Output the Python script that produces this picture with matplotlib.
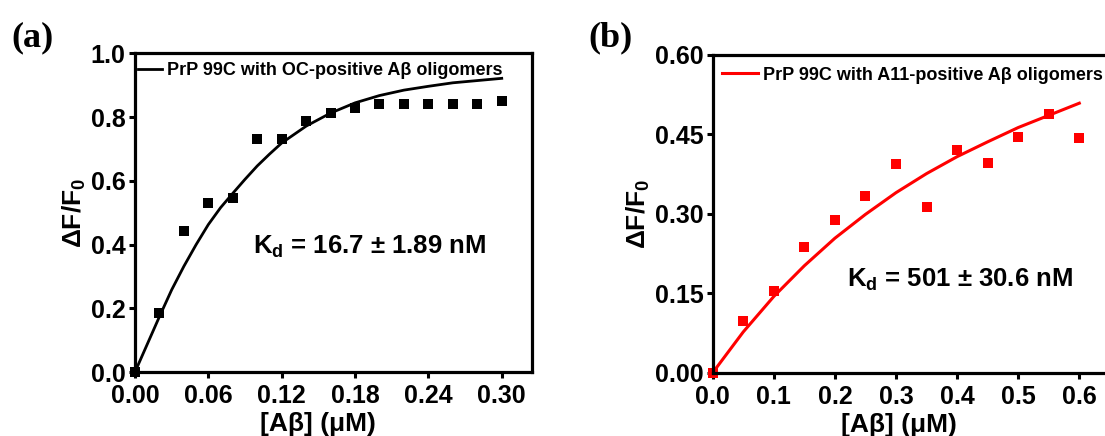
import matplotlib
matplotlib.use('Agg')
import matplotlib.pyplot as plt

plt.rcParams['font.family'] = ['Liberation Sans', 'DejaVu Sans']
plt.rcParams['font.weight'] = 'bold'
plt.rcParams['mathtext.fontset'] = 'custom'
plt.rcParams['mathtext.rm'] = 'Liberation Sans:bold'
plt.rcParams['mathtext.it'] = 'Liberation Sans:bold'
plt.rcParams['mathtext.bf'] = 'Liberation Sans:bold'

# panel (a): OC-positive oligomers
conc_a = [0.00, 0.02, 0.04, 0.06, 0.08, 0.10, 0.12, 0.14, 0.16,
          0.18, 0.20, 0.22, 0.24, 0.26, 0.28, 0.30]
signal_a = [0.000, 0.185, 0.443, 0.530, 0.547, 0.730, 0.730, 0.787, 0.814,
            0.829, 0.843, 0.843, 0.842, 0.840, 0.842, 0.850]
# fitted curve
fit_x_a = [0.00, 0.01, 0.02, 0.03, 0.04, 0.05, 0.06, 0.07, 0.08, 0.09, 0.10,
           0.11, 0.12, 0.14, 0.16, 0.18, 0.20, 0.22, 0.24, 0.26, 0.28, 0.30]
fit_a = [0.000, 0.087, 0.174, 0.258, 0.332, 0.400, 0.463, 0.516, 0.561, 0.605,
         0.647, 0.684, 0.719, 0.772, 0.813, 0.845, 0.868, 0.885, 0.897, 0.908,
         0.915, 0.922]

# panel (b): A11-positive oligomers
conc_b = [0.00, 0.05, 0.10, 0.15, 0.20, 0.25, 0.30, 0.35, 0.40,
          0.45, 0.50, 0.55, 0.60]
signal_b = [0.000, 0.097, 0.154, 0.238, 0.289, 0.334, 0.394, 0.313, 0.421,
            0.396, 0.445, 0.488, 0.443]
fit_b = [0.000, 0.077, 0.144, 0.202, 0.254, 0.299, 0.340, 0.376, 0.408,
         0.436, 0.463, 0.486, 0.509]

xticks_a = [0.00, 0.06, 0.12, 0.18, 0.24, 0.30]
yticks_a = [0.0, 0.2, 0.4, 0.6, 0.8, 1.0]
xticks_b = [0.0, 0.1, 0.2, 0.3, 0.4, 0.5, 0.6]
yticks_b = [0.00, 0.15, 0.30, 0.45, 0.60]

legend_a = 'PrP 99C with OC-positive Aβ oligomers'
legend_b = 'PrP 99C with A11-positive Aβ oligomers'
kd_a = r'K$_\mathregular{d}$ = 16.7 ± 1.89 nM'
kd_b = r'K$_\mathregular{d}$ = 501 ± 30.6 nM'

W, H = 1105, 436
fig = plt.figure(figsize=(W / 100, H / 100), dpi=100)

ax1 = fig.add_axes([135 / W, 1 - 372 / H, 397.3 / W, 318.5 / H])
ax2 = fig.add_axes([712.7 / W, 1 - 372.7 / H, 427.7 / W, 317.7 / H])


def style(ax, xt, yt, xfmt, yfmt, xlim, ylim):
    ax.set_xlim(*xlim)
    ax.set_ylim(*ylim)
    ax.set_xticks(xt)
    ax.set_yticks(yt)
    ax.set_xticklabels([xfmt.format(v) for v in xt])
    ax.set_yticklabels([yfmt.format(v) for v in yt])
    for s in ax.spines.values():
        s.set_linewidth(2.3)
    ax.tick_params(axis='both', direction='out', length=4.3, width=2.2, labelsize=18)
    ax.tick_params(axis='x', pad=4.5)
    ax.tick_params(axis='y', pad=2.5)
    ax.set_ylabel(r'$\Delta$F/F$_\mathregular{0}$', fontsize=19, fontweight='bold', labelpad=2)
    ax.set_xlabel('[Aβ] (μM)', fontsize=19, fontweight='bold', labelpad=3)


style(ax1, xticks_a, yticks_a, '{:.2f}', '{:.1f}', (0, 0.325), (0, 1.0))
style(ax2, xticks_b, yticks_b, '{:.1f}', '{:.2f}', (0, 0.7), (0, 0.6))
ax1.xaxis.label.set_x(0.15 / 0.325)
ax2.xaxis.label.set_x(0.305 / 0.7)

ax1.plot(fit_x_a, fit_a, color='black', lw=2.0, label=legend_a, clip_on=False)
ax1.plot(conc_a, signal_a, 's', color='black', ms=6.5, mew=0, clip_on=False)
ax2.plot(conc_b, fit_b, color='red', lw=2.2, label=legend_b, clip_on=False)
ax2.plot(conc_b, signal_b, 's', color='red', ms=6.5, mew=0, clip_on=False)

ax1.legend(loc='center left', bbox_to_anchor=(0.008, 0.946), frameon=False,
           borderpad=0, borderaxespad=0, handlelength=1.3, handletextpad=0.3,
           prop={'size': 13, 'weight': 'bold'})
ax2.legend(loc='center left', bbox_to_anchor=(0.021, 0.937), frameon=False,
           borderpad=0, borderaxespad=0, handlelength=2.0, handletextpad=0.3,
           prop={'size': 13, 'weight': 'bold'})

ax1.text(0.0966, 0.37, kd_a, ha='left', va='baseline',
         fontsize=18.5, fontweight='bold')
ax2.text(0.219, 0.162, kd_b, ha='left', va='baseline',
         fontsize=18.5, fontweight='bold')

fig.text(32.5 / W, 1 - 37.5 / H, '(a)', family='Liberation Serif', fontsize=26,
         fontweight='bold', ha='center', va='center')
fig.text(610 / W, 1 - 37.5 / H, '(b)', family='Liberation Serif', fontsize=26,
         fontweight='bold', ha='center', va='center')

fig.savefig('out.png', dpi=100)
